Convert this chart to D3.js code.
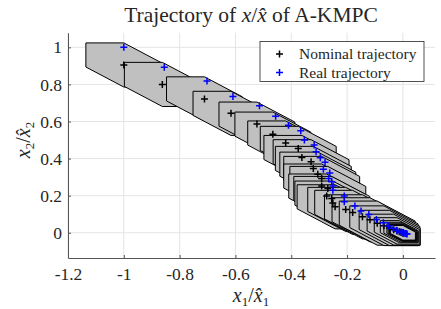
<!DOCTYPE html>
<html>
<head>
<meta charset="utf-8">
<script src="https://cdn.jsdelivr.net/npm/d3@7"></script>
<style>
  body { margin: 0; background: #fff; }
  svg { display: block; }
  text { font-family: "Liberation Serif", "Times New Roman", serif; fill: #262626; }
</style>
</head>
<body>
<svg id="chart" width="441" height="309"></svg>
<script>
// nominal trajectory (black +)
const nominalX = [-1.000, -0.862, -0.711, -0.616, -0.523, -0.466, -0.420, -0.375, -0.362, -0.329, -0.321,
  -0.305, -0.291, -0.291, -0.269, -0.273, -0.255, -0.251, -0.243, -0.205, -0.180, -0.145, -0.118, -0.092,
  -0.068, -0.048, -0.033, -0.021, -0.013, -0.007, -0.003, -0.001, 0.000, 0.000, 0.000, 0.000];
const nominalY = [0.905, 0.800, 0.722, 0.644, 0.586, 0.532, 0.484, 0.455, 0.406, 0.383, 0.347,
  0.316, 0.293, 0.252, 0.239, 0.198, 0.185, 0.160, 0.140, 0.126, 0.110, 0.086, 0.070, 0.052,
  0.038, 0.026, 0.017, 0.010, 0.006, 0.003, 0.001, 0.000, 0.000, 0.000, 0.000, 0.000];

// real trajectory (blue +)
const realX = [-1.000, -0.855, -0.702, -0.609, -0.514, -0.456, -0.410, -0.366, -0.353, -0.318, -0.311,
  -0.296, -0.279, -0.285, -0.262, -0.266, -0.255, -0.250, -0.251, -0.210, -0.210, -0.172, -0.150, -0.122,
  -0.095, -0.070, -0.052, -0.035, -0.022, -0.012, -0.005, -0.001, 0.004, 0.008, 0.012, 0.015];
const realY = [1.000, 0.893, 0.818, 0.735, 0.685, 0.629, 0.580, 0.550, 0.501, 0.474, 0.437,
  0.404, 0.381, 0.342, 0.323, 0.293, 0.275, 0.252, 0.230, 0.198, 0.167, 0.145, 0.118, 0.098,
  0.072, 0.054, 0.036, 0.024, 0.014, 0.007, 0.003, 0.001, -0.002, -0.004, -0.005, -0.006];

// tube set around each nominal point (hexagon offsets) and its size per step
const tubeShapeX = [-0.136, 0.000, 0.136, 0.136, 0.000, -0.136];
const tubeShapeY = [0.119, 0.119, 0.011, -0.119, -0.119, -0.011];
const tubeScale = [1, 1, 1, 1, 1, 1, 1, 1, 1, 1, 1, 1, 1, 1, 1, 1, 1, 1, 1, 1, 1, 1, 1, 1,
  0.9, 0.8, 0.7, 0.6, 0.5, 0.45, 0.4, 0.38, 0.36, 0.35, 0.34, 0.33];

const xTicks = [-1.2, -1, -0.8, -0.6, -0.4, -0.2, 0];
const yTicks = [0, 0.2, 0.4, 0.6, 0.8, 1];
const legendLabels = ["Nominal trajectory", "Real trajectory"];
const legendColors = ["#000000", "#0000ff"];

const svg = d3.select("#chart");

const x = d3.scaleLinear().domain([-1.2, 0.115]).range([68, 435]);
const y = d3.scaleLinear().domain([-0.136, 1.079]).range([258, 32.7]);
const fmt = d => String(+d.toFixed(1));

// grid
svg.append("g").selectAll("line").data(xTicks).join("line")
    .attr("x1", d => x(d)).attr("x2", d => x(d))
    .attr("y1", y.range()[0]).attr("y2", y.range()[1])
    .attr("stroke", "#e4e4e4").attr("stroke-width", 1);
svg.append("g").selectAll("line").data(yTicks).join("line")
    .attr("y1", d => y(d)).attr("y2", d => y(d))
    .attr("x1", x.range()[0]).attr("x2", x.range()[1])
    .attr("stroke", "#e4e4e4").attr("stroke-width", 1);

// tubes
const tubes = nominalX.map((nx, k) => tubeShapeX.map((dx, i) =>
    [x(nx + tubeScale[k] * dx), y(nominalY[k] + tubeScale[k] * tubeShapeY[i])]));

svg.append("g").selectAll("path").data(tubes).join("path")
    .attr("d", d => "M" + d.join("L") + "Z")
    .attr("fill", "#c0c0c0")
    .attr("stroke", "#000")
    .attr("stroke-width", 1)
    .attr("stroke-linejoin", "round");

// markers
const plus = "M-3.5,0H3.5M0,-3.5V3.5";
svg.append("g").selectAll("path").data(nominalX).join("path")
    .attr("transform", (d, i) => `translate(${x(d)},${y(nominalY[i])})`)
    .attr("d", plus).attr("stroke", "#000").attr("stroke-width", 1.5);
svg.append("g").selectAll("path").data(realX).join("path")
    .attr("transform", (d, i) => `translate(${x(d)},${y(realY[i])})`)
    .attr("d", plus).attr("stroke", "#0000ff").attr("stroke-width", 1.5);

// axes
const xAxis = svg.append("g")
    .attr("transform", `translate(0,${y.range()[0]})`)
    .call(d3.axisBottom(x).tickValues(xTicks).tickFormat(fmt).tickSizeInner(-3).tickSizeOuter(0).tickPadding(10));
const yAxis = svg.append("g")
    .attr("transform", `translate(${x.range()[0]},0)`)
    .call(d3.axisLeft(y).tickValues(yTicks).tickFormat(fmt).tickSizeInner(-3).tickSizeOuter(0).tickPadding(6));

[xAxis, yAxis].forEach(a => {
    a.select(".domain").attr("stroke", "#555");
    a.selectAll(".tick line").attr("stroke", "#555");
    a.selectAll("text").attr("font-family", "Liberation Serif").attr("font-size", 17.5).attr("fill", "#262626");
});

// legend
const legend = svg.append("g").attr("transform", "translate(260,41.5)");
legend.append("rect").attr("width", 164).attr("height", 40)
    .attr("fill", "#fff").attr("stroke", "#262626").attr("stroke-width", 0.8);
legendLabels.forEach((label, i) => {
    const row = legend.append("g").attr("transform", `translate(0,${12.5 + i * 18.5})`);
    row.append("path").attr("transform", "translate(19.5,0)").attr("d", plus)
        .attr("stroke", legendColors[i]).attr("stroke-width", 1.5);
    row.append("text").attr("x", 39).attr("y", 5).attr("font-size", 15.5).text(label);
});

// title
const title = svg.append("text").attr("x", 251).attr("y", 22)
    .attr("text-anchor", "middle").attr("font-size", 21.5).attr("fill", "#000");
title.append("tspan").text("Trajectory of ");
title.append("tspan").attr("font-style", "italic").text("x");
title.append("tspan").text("/");
title.append("tspan").attr("font-style", "italic").text("x\u0302");
title.append("tspan").text(" of A-KMPC");

// axis labels
function mathLabel(sel, sub) {
    sel.append("tspan").attr("font-style", "italic").text("x");
    sel.append("tspan").attr("font-size", 13).attr("dy", 4).text(sub);
    sel.append("tspan").attr("dy", -4).text("/");
    sel.append("tspan").attr("font-style", "italic").text("x\u0302");
    sel.append("tspan").attr("font-size", 13).attr("dy", 4).text(sub);
}
const xl = svg.append("text").attr("x", 251).attr("y", 302)
    .attr("text-anchor", "middle").attr("font-size", 20).attr("fill", "#262626");
mathLabel(xl, "1");
const yl = svg.append("text").attr("transform", "translate(30,140) rotate(-90)")
    .attr("text-anchor", "middle").attr("font-size", 20).attr("fill", "#262626");
mathLabel(yl, "2");
</script>
</body>
</html>
